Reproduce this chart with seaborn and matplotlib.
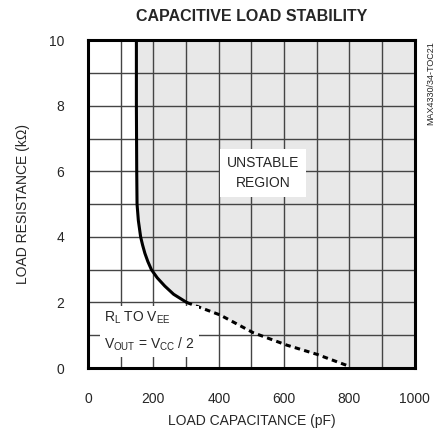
import numpy as np
import pandas as pd
import matplotlib
matplotlib.use("Agg")
import matplotlib.pyplot as plt
import seaborn as sns

# stability boundary
solid_cap = [148, 148, 149, 150, 154, 161, 167, 174, 183, 194, 212, 235, 262, 302]
solid_res = [10.0, 8.0, 6.0, 5.0, 4.5, 4.0, 3.75, 3.5, 3.25, 3.0, 2.75, 2.5, 2.25, 2.0]
dash_cap = [302, 404, 505, 608, 700, 800]
dash_res = [2.0, 1.62, 1.08, 0.70, 0.42, 0.05]

sns.set_style("white")
plt.rcParams['font.family'] = ['Liberation Sans', 'DejaVu Sans']

fig = plt.figure(figsize=(4.39, 4.32), dpi=100)
ax = fig.add_axes([0.2005, 0.148, 0.7445, 0.759])

# unstable region shading
all_cap = np.array(solid_cap + dash_cap[1:])
all_res = np.array(solid_res + dash_res[1:])
ax.fill_betweenx(np.append(all_res, 0), np.append(all_cap, 800), 1000,
                 color="#e8e8e8", zorder=0, lw=0)

# grid
for xv in range(100, 1000, 100):
    ax.axvline(xv, color="#444444", lw=1.0, zorder=1)
for yv in range(1, 10):
    ax.axhline(yv, color="#444444", lw=1.0, zorder=1)

df_s = pd.DataFrame({"cap": solid_cap, "res": solid_res})
df_d = pd.DataFrame({"cap": dash_cap, "res": dash_res})
sns.lineplot(data=df_s, x="cap", y="res", ax=ax, color="black", lw=2.2,
             sort=False, estimator=None, zorder=3)
sns.lineplot(data=df_d, x="cap", y="res", ax=ax, color="black", lw=2.2,
             sort=False, estimator=None, zorder=3, linestyle=(0, (1.8, 1.4)))

ax.set_xlim(0, 1000)
ax.set_ylim(0, 10)
ax.set_xticks(range(0, 1001, 200))
ax.set_yticks(range(0, 11, 2))
ax.tick_params(length=0, labelsize=10, pad=17)
for s in ax.spines.values():
    s.set_linewidth(2.2)
    s.set_color("black")
    s.set_zorder(4)

ax.set_xlabel("LOAD CAPACITANCE (pF)", fontsize=10, labelpad=6)
ax.set_ylabel("LOAD RESISTANCE (k\u03a9)", fontsize=10, labelpad=14)
ax.set_title("CAPACITIVE LOAD STABILITY", fontsize=11.5, fontweight="bold", pad=14)

ax.text(535, 5.95, "UNSTABLE\nREGION", ha="center", va="center", fontsize=10,
        linespacing=1.6, zorder=5,
        bbox=dict(facecolor="white", edgecolor="none", pad=5))
ax.text(50, 1.12, "R$_\\mathregular{L}$ TO V$_\\mathregular{EE}$\nV$_\\mathregular{OUT}$ = V$_\\mathregular{CC}$ / 2",
        ha="left", va="center", fontsize=10, linespacing=1.7, zorder=5,
        bbox=dict(facecolor="white", edgecolor="none", pad=3))

fig.text(0.982, 0.905, "MAX4330/34-TOC21", rotation=90, ha="center", va="top",
         fontsize=6.5)

fig.savefig("out.png", dpi=100)
